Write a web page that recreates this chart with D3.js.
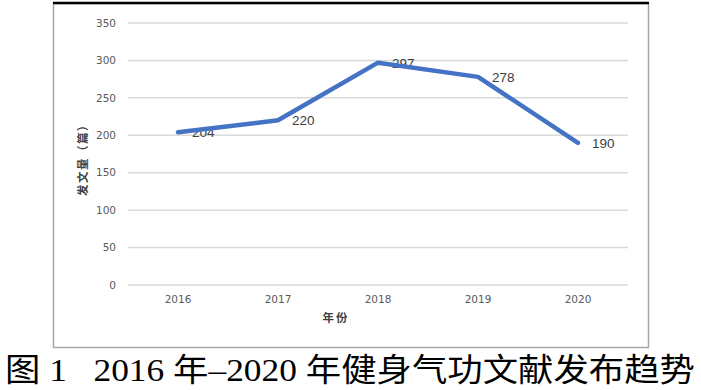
<!DOCTYPE html>
<meta charset="utf-8">
<style>
  body { margin: 0; background: #fff; }
  .grid line { stroke: #d9d9d9; stroke-width: 1.5; }
  .tick-label { fill: #595959; font-family: "DejaVu Sans", sans-serif; font-size: 10.5px; }
  .data-label { fill: #404040; font-family: "Liberation Sans", sans-serif; font-size: 13.5px; }
  .axis-title { fill: #404040; font-family: "Noto Sans CJK SC", sans-serif; font-size: 11.5px; font-weight: bold; }
  .line { fill: none; stroke: #4472c4; stroke-width: 4.5; stroke-linejoin: round; stroke-linecap: round; }
</style>
<body></body>
<script src="https://d3js.org/d3.v7.min.js"></script>
<script>
  // data
  var years = ["2016", "2017", "2018", "2019", "2020"];
  var counts = [204, 220, 297, 278, 190];
  var yTicks = [0, 50, 100, 150, 200, 250, 300, 350];

  var W = 701, H = 390;
  var svg = d3.select("body").append("svg")
      .attr("width", W)
      .attr("height", H);

  // chart frame
  svg.append("rect")
      .attr("x", 53.5).attr("y", 3.5)
      .attr("width", 595).attr("height", 344)
      .attr("fill", "#fff")
      .attr("stroke", "#a6a6a6")
      .attr("stroke-width", 1.5);
  svg.append("line")
      .attr("x1", 53).attr("x2", 649)
      .attr("y1", 3).attr("y2", 3)
      .attr("stroke", "#000").attr("stroke-width", 2.5);

  var x = d3.scaleBand().domain(years).range([128, 628]);
  var y = d3.scaleLinear().domain([0, 350]).range([285, 23]);

  // gridlines
  svg.append("g").attr("class", "grid")
    .selectAll("line").data(yTicks).enter().append("line")
      .attr("x1", 128).attr("x2", 628)
      .attr("y1", function(d) { return y(d); })
      .attr("y2", function(d) { return y(d); });

  // y tick labels
  svg.selectAll(".ytl").data(yTicks).enter().append("text")
      .attr("class", "tick-label")
      .attr("x", 116)
      .attr("y", function(d) { return y(d); })
      .attr("dy", "0.36em")
      .attr("text-anchor", "end")
      .text(function(d) { return d; });

  // x tick labels
  svg.selectAll(".xtl").data(years).enter().append("text")
      .attr("class", "tick-label")
      .attr("x", function(d) { return x(d) + x.bandwidth() / 2; })
      .attr("y", 299)
      .attr("dy", "0.36em")
      .attr("text-anchor", "middle")
      .text(function(d) { return d; });

  // axis titles
  svg.append("text")
      .attr("class", "axis-title")
      .attr("x", 336).attr("y", 318)
      .attr("dy", "0.36em")
      .attr("text-anchor", "middle")
      .attr("letter-spacing", "2px")
      .text("年份");

  svg.append("text")
      .attr("class", "axis-title")
      .attr("transform", "translate(83,157) rotate(-90)")
      .attr("dy", "0.36em")
      .attr("text-anchor", "middle")
      .attr("letter-spacing", "1.5px")
      .text("发文量（篇）");

  var pts = years.map(function(d, i) { return {year: d, v: counts[i]}; });

  // data labels (under the line)
  svg.selectAll(".data-label").data(pts).enter().append("text")
      .attr("class", "data-label")
      .attr("x", function(d) { return x(d.year) + x.bandwidth() / 2 + 14; })
      .attr("y", function(d) { return y(d.v); })
      .attr("dy", "0.36em")
      .text(function(d) { return d.v; });

  var line = d3.line()
      .x(function(d) { return x(d.year) + x.bandwidth() / 2; })
      .y(function(d) { return y(d.v); });

  svg.append("path")
      .datum(pts)
      .attr("class", "line")
      .attr("d", line);

  // caption
  svg.append("text")
      .attr("x", 5).attr("y", 381)
      .attr("font-family", "'Liberation Serif', 'Noto Sans CJK SC', serif")
      .attr("font-size", 32)
      .attr("fill", "#000")
      .attr("textLength", 690)
      .attr("lengthAdjust", "spacingAndGlyphs")
      .style("white-space", "pre")
      .text("图 1   2016 年–2020 年健身气功文献发布趋势");
</script>
